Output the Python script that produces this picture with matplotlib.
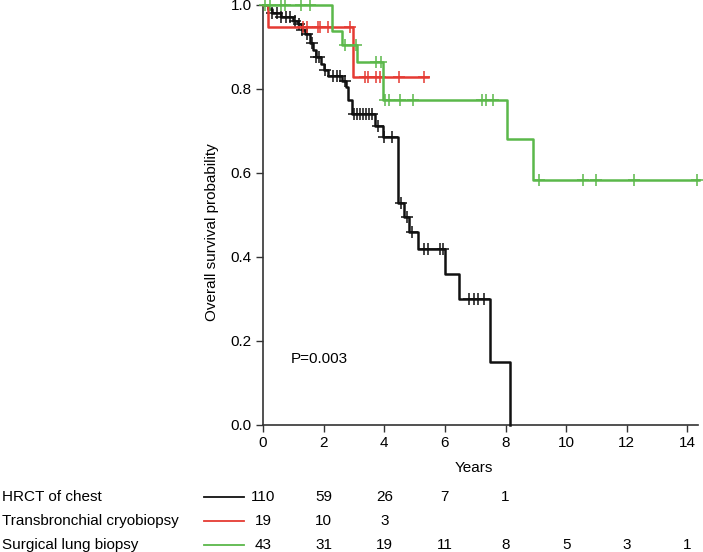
import numpy as np
import matplotlib
matplotlib.use('Agg')
import matplotlib.pyplot as plt
from matplotlib.lines import Line2D
import matplotlib.transforms as mtransforms

plt.rcParams['font.family'] = ['Liberation Sans', 'DejaVu Sans']

# Kaplan-Meier steps (time in years, survival after the drop)
hrct_t = [0, 0.15, 0.3, 0.6, 1.0, 1.15, 1.3, 1.4, 1.55, 1.65, 1.75, 1.9, 2.0, 2.15,
          2.6, 2.75, 2.82, 2.92, 3.7, 3.95, 4.45, 4.65, 4.8, 5.1, 6.0, 6.45, 7.5, 8.16]
hrct_s = [1.0, 0.99, 0.98, 0.972, 0.963, 0.955, 0.94, 0.93, 0.91, 0.893, 0.877, 0.86,
          0.845, 0.83, 0.82, 0.805, 0.775, 0.74, 0.712, 0.685, 0.528, 0.495, 0.46,
          0.42, 0.36, 0.30, 0.15, 0.0]
hrct_cens = [0.3, 0.45, 0.6, 0.75, 0.9, 1.05, 1.2, 1.3, 1.45, 1.6, 1.75, 1.85, 2.05,
             2.3, 2.45, 2.55, 2.7, 3.0, 3.1, 3.2, 3.3, 3.4, 3.5, 3.6, 3.8, 4.0, 4.25,
             4.55, 4.75, 4.9, 5.3, 5.45, 5.85, 5.95, 6.8, 6.95, 7.1, 7.3]

tbc_t = [0, 0.15, 2.97, 5.45]
tbc_s = [1.0, 0.947, 0.829, 0.829]
tbc_cens = [1.33, 1.45, 1.82, 1.88, 2.15, 2.86, 3.36, 3.47, 3.74, 3.85, 4.5, 5.3]

slb_t = [0, 2.26, 2.59, 3.1, 3.96, 8.05, 8.91, 14.37]
slb_s = [1.0, 0.937, 0.905, 0.865, 0.775, 0.68, 0.583, 0.583]
slb_cens = [0.07, 0.23, 0.61, 0.72, 1.27, 1.55, 2.7, 3.08, 3.74, 3.9, 4.03, 4.15,
            4.52, 4.94, 7.22, 7.36, 7.58, 9.11, 10.54, 10.98, 12.24, 14.32]

# numbers at risk
risk_years = [0, 2, 4, 6, 8, 10, 12, 14]
hrct_risk = [110, 59, 26, 7, 1]
tbc_risk = [19, 10, 3]
slb_risk = [43, 31, 19, 11, 8, 5, 3, 1]

names = ['HRCT of chest', 'Transbronchial cryobiopsy', 'Surgical lung biopsy']
colors = ['#111111', '#e53a33', '#5bb84a']

fig = plt.figure(figsize=(7.03, 5.52), dpi=100)
ax = fig.add_axes([263/703, 1-425/552, 435/703, 420/552])

curves = [(hrct_t, hrct_s, hrct_cens), (tbc_t, tbc_s, tbc_cens), (slb_t, slb_s, slb_cens)]
for (t, s, c), col in zip(curves, colors):
    ax.step(t, s, where='post', color=col, lw=1.8, clip_on=False, zorder=3)
    idx = np.searchsorted(t, c, side='right') - 1
    cy = np.array(s)[idx]
    ax.plot(c, cy, ls='none', marker='+', ms=9, mew=1.1, color=col, clip_on=False, zorder=3)

ax.set_xlim(0, 14.35)
ax.set_ylim(0, 1.0)
ax.set_xticks(risk_years)
ax.set_yticks([0.0, 0.2, 0.4, 0.6, 0.8, 1.0])
ax.set_yticklabels(['0.0', '0.2', '0.4', '0.6', '0.8', '1.0'])
for sp in ['top', 'right']:
    ax.spines[sp].set_visible(False)
for sp in ['left', 'bottom']:
    ax.spines[sp].set_color('#333333')
    ax.spines[sp].set_linewidth(1.2)
ax.tick_params(direction='out', length=5, width=1.0, color='#333333', labelsize=11, pad=3)
ax.set_xlabel('Years', fontsize=11)
ax.xaxis.set_label_coords(0.485, -0.085)
ax.set_ylabel('Overall survival probability', fontsize=11)
ax.yaxis.set_label_coords(-0.102, 0.46)
ax.text(0.9, 0.157, 'P=0.003', fontsize=11, va='center', ha='left')

# numbers-at-risk table
row_y = [1-497/552, 1-521/552, 1-545/552]
trans = mtransforms.blended_transform_factory(ax.transData, fig.transFigure)
for name, col, risk, y in zip(names, colors, [hrct_risk, tbc_risk, slb_risk], row_y):
    fig.text(2/703, y, name, fontsize=11, va='center', ha='left')
    fig.add_artist(Line2D([204/703, 244/703], [y, y], color=col, lw=1.3,
                          transform=fig.transFigure))
    for yr, n in zip(risk_years, risk):
        ax.text(yr, y, str(n), transform=trans, fontsize=11, va='center', ha='center',
                clip_on=False)

fig.savefig('out.png', dpi=100)
